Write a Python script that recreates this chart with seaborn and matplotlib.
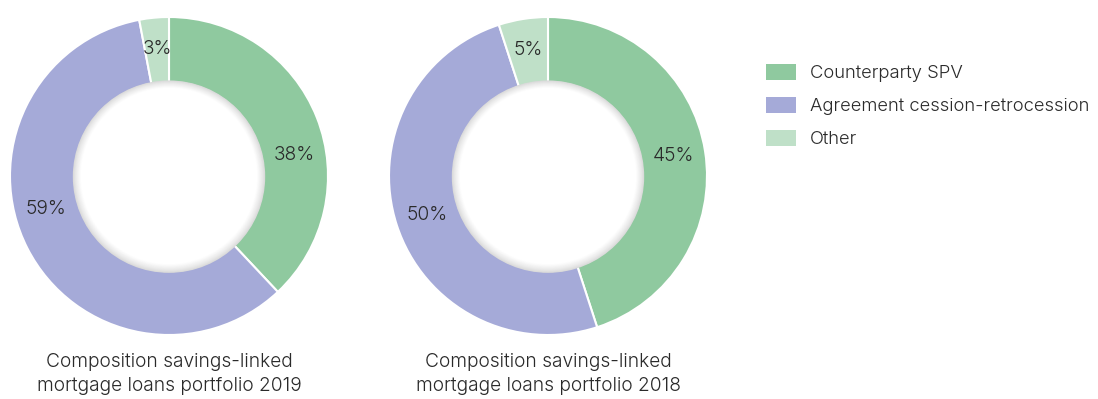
import matplotlib
matplotlib.use("Agg")
import numpy as np
import matplotlib.pyplot as plt
import seaborn as sns
from matplotlib.patches import Circle, Patch

sns.set_theme(style="white")
plt.rcParams['font.family'] = ['Inter', 'DejaVu Sans']
plt.rcParams['font.weight'] = 300

categories = ["Counterparty SPV", "Agreement cession-retrocession", "Other"]
values_2019 = [38, 59, 3]
values_2018 = [45, 50, 5]
titles = ["Composition savings-linked\nmortgage loans portfolio 2019",
          "Composition savings-linked\nmortgage loans portfolio 2018"]
colors = ["#8fc99f", "#a5aad8", "#bfe0c8"]
text_color = "#2a2a2a"
FS = 13.8
LFS = 13.3

W, H = 1098, 399
fig = plt.figure(figsize=(W / 100, H / 100), dpi=100)

R = 159
centers = [(169, 176), (548, 176)]
label_shift = [[-12, -12, 0], [0, 0, 0]]
for (cx, cy), vals, title, shift in zip(centers, [values_2019, values_2018], titles, label_shift):
    ax = fig.add_axes([(cx - R) / W, (H - cy - R) / H, 2 * R / W, 2 * R / H])
    wedges, _ = ax.pie(vals, colors=colors, startangle=90, counterclock=False, radius=1.0,
                       wedgeprops=dict(edgecolor="white", linewidth=1.5))
    for w, v, s in zip(wedges, vals, shift):
        ang = np.deg2rad((w.theta1 + w.theta2) / 2 + s)
        ax.text(0.8 * np.cos(ang), 0.8 * np.sin(ang), f"{v}%", ha="center", va="center",
                fontsize=FS, fontweight=300, color=text_color, zorder=5)
    # inner hole with soft inner shadow
    rin = 0.605
    n = 16
    for i in range(n):
        frac = i / (n - 1)
        r = rin - 0.05 * frac
        g = 0.85 + 0.15 * frac ** 0.8
        ax.add_patch(Circle((0, -0.004 * (1 - frac)), r, facecolor=(g, g, g), edgecolor="none", zorder=3))
    ax.set_xlim(-1, 1)
    ax.set_ylim(-1, 1)
    ax.set_aspect("equal")
    ax.axis("off")
    fig.text(cx / W, 1 - 374 / H, title, ha="center", va="center", fontsize=FS, fontweight=300,
             color=text_color, linespacing=1.45)

handles = [Patch(facecolor=c, edgecolor="none") for c in colors]
fig.legend(handles, categories, loc="upper left", bbox_to_anchor=(766 / W, 1 - 64 / H),
           frameon=False, handlelength=1.65, handleheight=0.93, borderpad=0, borderaxespad=0,
           labelspacing=0.8, handletextpad=0.72, labelcolor=text_color,
           prop=dict(family=['Inter', 'DejaVu Sans'], weight=300, size=LFS))

fig.savefig("out.png", dpi=100)
